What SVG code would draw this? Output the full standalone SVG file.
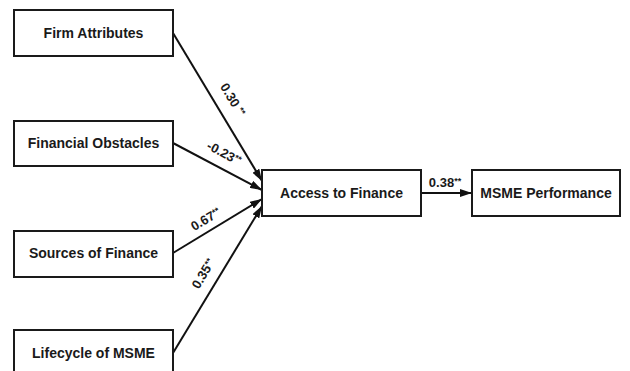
<svg xmlns="http://www.w3.org/2000/svg" width="630" height="371" viewBox="0 0 630 371">
<style>
.box{fill:#fff;stroke:#1a1a1a;stroke-width:2}
.t{font-family:"Liberation Sans",Arial,sans-serif;font-weight:bold;font-size:14px;fill:#1a1a1a;text-anchor:middle}
.l{font-family:"Liberation Sans",Arial,sans-serif;font-weight:bold;font-size:13px;fill:#1a1a1a;text-anchor:middle}
.s{font-size:9px}
.c{stroke:#111;stroke-width:2;fill:none;marker-end:url(#ah)}
</style>
<defs>
<marker id="ah" viewBox="0 0 12 8" refX="12" refY="4" markerWidth="12" markerHeight="8" markerUnits="userSpaceOnUse" orient="auto">
<path d="M0,0 L12,4 L0,8 Z" fill="#111"/>
</marker>
</defs>
<rect width="630" height="371" fill="#fff"/>
<g id="connectors">
<line class="c" x1="173" y1="33" x2="262" y2="181"/>
<line class="c" x1="173" y1="143" x2="262" y2="190"/>
<line class="c" x1="173" y1="253" x2="262" y2="199"/>
<line class="c" x1="173" y1="353" x2="262" y2="206"/>
<line class="c" x1="421" y1="193" x2="472" y2="193"/>
<text class="l" transform="translate(229,102) rotate(59)">0.30 <tspan class="s" dy="-3">**</tspan></text>
<text class="l" transform="translate(222,157) rotate(28)">-0.23<tspan class="s" dy="-3">**</tspan></text>
<text class="l" transform="translate(208,223) rotate(-31)">0.67<tspan class="s" dy="-3">**</tspan></text>
<text class="l" transform="translate(207,276) rotate(-59)">0.35<tspan class="s" dy="-3">**</tspan></text>
<text class="l" x="445" y="187">0.38<tspan class="s" dy="-3">**</tspan></text>
</g>
<g id="firm-attributes">
<rect class="box" x="14" y="10" width="159" height="46"/>
<text class="t" x="93.5" y="38">Firm Attributes</text>
</g>
<g id="financial-obstacles">
<rect class="box" x="14" y="121" width="159" height="45"/>
<text class="t" x="93.5" y="148">Financial Obstacles</text>
</g>
<g id="sources-of-finance">
<rect class="box" x="14" y="231" width="159" height="46"/>
<text class="t" x="93.5" y="258">Sources of Finance</text>
</g>
<g id="lifecycle-of-msme">
<rect class="box" x="14" y="330" width="159" height="46"/>
<text class="t" x="93.5" y="358">Lifecycle of MSME</text>
</g>
<g id="access-to-finance">
<rect class="box" x="262" y="170" width="159" height="46"/>
<text class="t" x="341.5" y="198">Access to Finance</text>
</g>
<g id="msme-performance">
<rect class="box" x="472" y="170" width="148" height="46"/>
<text class="t" x="546" y="198">MSME Performance</text>
</g>
</svg>
